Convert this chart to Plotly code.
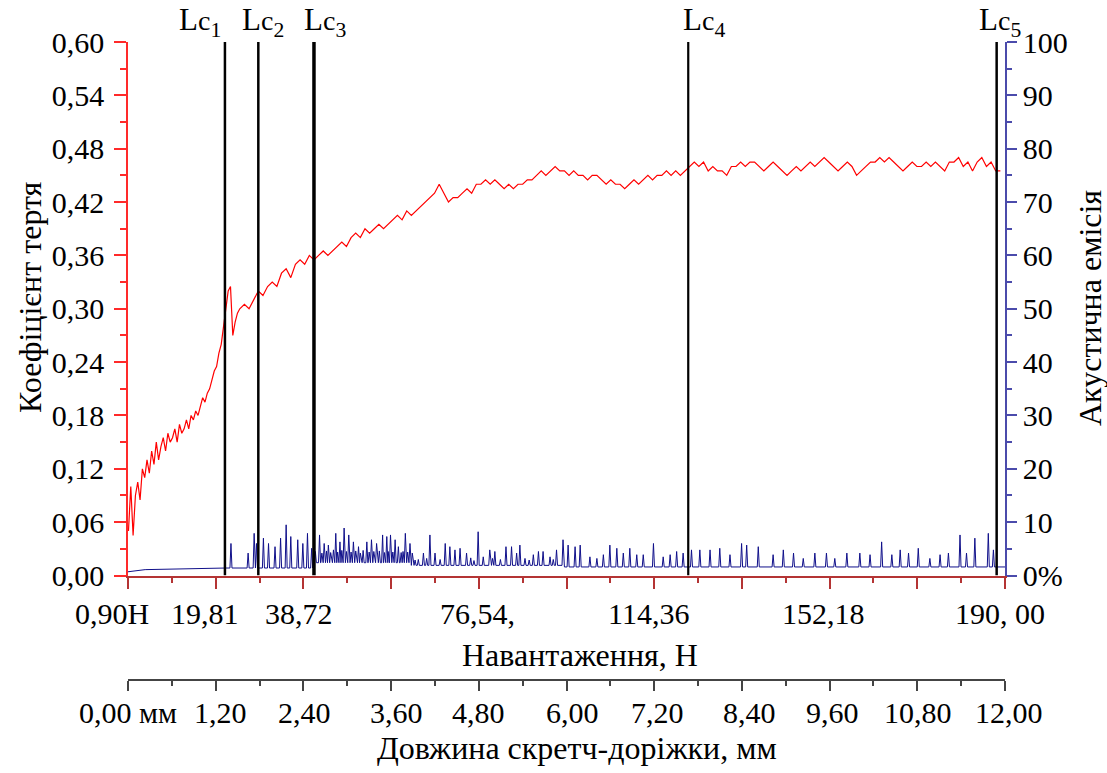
import numpy as np
import plotly.graph_objects as go

# ---------------------------------------------------------------------------
# Scratch test: coefficient of friction and acoustic emission vs normal load
# ---------------------------------------------------------------------------

# Friction coefficient, initial stage (load in N, half-newton steps)
COF_LOAD_EARLY = np.arange(1.0, 25.0, 0.5)
COF_EARLY = [
    0.05, 0.10, 0.045, 0.09, 0.105, 0.085, 0.12, 0.11, 0.13, 0.115,
    0.14, 0.125, 0.15, 0.13, 0.145, 0.155, 0.14, 0.16, 0.15, 0.155,
    0.165, 0.15, 0.17, 0.16, 0.165, 0.175, 0.165, 0.18, 0.175, 0.185,
    0.18, 0.19, 0.20, 0.195, 0.205, 0.21, 0.22, 0.23, 0.235, 0.25,
    0.26, 0.28, 0.295, 0.32, 0.325, 0.27, 0.285, 0.295,
]

# Friction coefficient, main stage (load in N, one-newton steps)
COF_LOAD_MAIN = np.arange(25, 190, 1.0)
COF_MAIN = [
    0.30, 0.305, 0.30, 0.31, 0.32, 0.315, 0.325, 0.33, 0.325, 0.34,
    0.345, 0.335, 0.35, 0.355, 0.35, 0.36, 0.355, 0.36, 0.365, 0.36,
    0.365, 0.37, 0.375, 0.37, 0.38, 0.385, 0.38, 0.39, 0.385, 0.39,
    0.395, 0.39, 0.395, 0.40, 0.405, 0.40, 0.41, 0.405, 0.41, 0.415,
    0.42, 0.425, 0.43, 0.44, 0.43, 0.42, 0.425, 0.425, 0.43, 0.435,
    0.43, 0.44, 0.44, 0.445, 0.44, 0.445, 0.44, 0.435, 0.44, 0.435,
    0.44, 0.44, 0.445, 0.445, 0.45, 0.455, 0.45, 0.455, 0.46, 0.455,
    0.455, 0.45, 0.455, 0.45, 0.45, 0.445, 0.45, 0.45, 0.445, 0.44,
    0.445, 0.44, 0.44, 0.435, 0.44, 0.445, 0.44, 0.445, 0.45, 0.445,
    0.45, 0.45, 0.455, 0.45, 0.455, 0.45, 0.455, 0.46, 0.465, 0.46,
    0.465, 0.455, 0.46, 0.455, 0.455, 0.45, 0.46, 0.46, 0.465, 0.46,
    0.465, 0.465, 0.46, 0.455, 0.46, 0.465, 0.46, 0.455, 0.45, 0.455,
    0.46, 0.455, 0.46, 0.465, 0.46, 0.465, 0.47, 0.465, 0.46, 0.455,
    0.46, 0.465, 0.46, 0.45, 0.455, 0.46, 0.465, 0.465, 0.47, 0.465,
    0.47, 0.465, 0.46, 0.455, 0.46, 0.465, 0.46, 0.46, 0.465, 0.46,
    0.465, 0.46, 0.455, 0.465, 0.465, 0.47, 0.46, 0.465, 0.455, 0.465,
    0.47, 0.46, 0.465, 0.455, 0.455,
]

# Acoustic emission bursts: load (N) and peak amplitude (%)
AE_PEAK_LOAD = [
    23.1, 26.8, 28.1, 28.6, 30.1, 31.2, 32.6, 33.8, 35.0, 36.0,
    37.5, 38.6, 39.6, 40.5, 41.3, 42.2, 42.7, 43.2, 43.7, 44.1,
    44.6, 45.2, 45.7, 46.1, 46.6, 47.0, 47.5, 48.0, 48.5, 49.0,
    49.5, 50.0, 50.6, 51.0, 51.6, 52.4, 52.9, 53.4, 53.9, 54.5,
    55.1, 55.8, 56.2, 56.7, 57.0, 57.5, 58.0, 58.5, 59.2, 59.8,
    60.2, 60.7, 61.2, 61.7, 62.2, 62.8, 63.5, 64.6, 65.3, 66.0,
    67.1, 68.2, 69.3, 70.3, 71.4, 72.5, 73.9, 74.8, 75.5, 76.4,
    77.5, 78.9, 79.5, 80.0, 81.2, 82.4, 83.6, 84.7, 85.4, 86.5,
    87.4, 88.3, 89.4, 90.4, 91.9, 92.6, 93.3, 94.7, 95.8, 97.3,
    98.4, 100.5, 102.0, 103.4, 104.8, 106.3, 107.7, 109.1, 110.6, 112.0,
    114.2, 116.3, 117.8, 119.2, 120.6, 122.4, 124.2, 126.4, 128.5, 130.7,
    133.2, 134.3, 136.8, 140.0, 142.2, 144.4, 146.5, 149.0, 151.5, 153.3,
    155.9, 158.7, 160.9, 163.4, 165.6, 167.4, 169.2, 171.3, 173.8, 176.0,
    177.8, 180.3, 181.7, 183.5, 186.4, 187.5,
]
AE_PEAK = [
    6.0, 4.2, 7.9, 6.0, 7.0, 6.0, 5.4, 7.0, 9.5, 7.3,
    6.7, 6.0, 7.9, 5.1, 4.5, 7.6, 4.2, 6.0, 4.6, 5.7,
    4.3, 4.8, 7.9, 4.4, 6.3, 4.7, 8.9, 4.5, 7.6, 4.4,
    6.3, 4.6, 5.4, 4.2, 4.7, 6.3, 4.4, 6.7, 4.5, 6.0,
    4.6, 7.6, 4.3, 7.3, 4.5, 7.6, 4.4, 6.7, 5.4, 4.3,
    4.5, 7.9, 4.4, 6.0, 4.2, 2.9, 3.0, 4.2, 3.2, 7.6,
    4.2, 3.0, 6.0, 5.4, 4.8, 5.1, 4.2, 3.3, 2.8, 8.2,
    3.5, 4.8, 3.2, 4.5, 3.0, 5.4, 5.4, 4.2, 5.7, 3.2,
    2.9, 3.9, 4.5, 4.5, 3.5, 3.0, 4.8, 6.7, 5.7, 5.4,
    5.7, 3.5, 3.2, 3.9, 5.7, 5.1, 4.2, 5.1, 3.9, 3.9,
    6.0, 3.5, 3.9, 4.5, 4.2, 4.8, 4.8, 4.8, 5.1, 3.9,
    6.0, 5.7, 5.4, 3.9, 4.8, 4.2, 3.2, 4.2, 4.2, 3.2,
    4.2, 4.2, 3.9, 6.3, 3.9, 4.8, 4.2, 5.1, 3.2, 3.9,
    4.2, 7.6, 4.2, 7.0, 7.9, 4.8,
]

# Acoustic emission background level (%) from each listed load onward
AE_FLOOR_LOAD = [0.9, 4.6, 22.0, 41.0, 62.0, 95.0]
AE_FLOOR = [0.7, 1.1, 1.4, 2.4, 1.9, 1.6]

# Critical loads Lc1..Lc5 (N)
LC_LOAD = [21.8, 29.0, 41.0, 121.7, 188.2]
LC_NAME = ["1", "2", "3", "4", "5"]

# Axis ticks
LOAD_TICKS = [0.90, 19.81, 38.72, 57.63, 76.54, 95.45, 114.36, 133.27, 152.18, 171.09, 190.00]
LOAD_TICK_TEXT = ["0,90Н", "19,81", "38,72", "", "76,54,", "", "114,36", "", "152,18", "", "190, 00"]
LEN_TICKS = [0.0, 1.2, 2.4, 3.6, 4.8, 6.0, 7.2, 8.4, 9.6, 10.8, 12.0]
LEN_TICK_TEXT = ["0,00 мм", "1,20", "2,40", "3,60", "4,80", "6,00", "7,20", "8,40", "9,60", "10,80", "12,00"]
COF_TICKS = [0.0, 0.06, 0.12, 0.18, 0.24, 0.30, 0.36, 0.42, 0.48, 0.54, 0.60]
AE_TICKS = [0, 10, 20, 30, 40, 50, 60, 70, 80, 90, 100]

FONT = "Liberation Serif"
RED = "#ff2a2a"
AXIS_RED = "#b43434"
BLUE = "#4b4bab"
GREY = "#444444"

# pixel geometry of the plotting frame
PLOT_W, PLOT_H = 877, 638
BOTTOM_PX = 680


def px_x(px):
    return (px - 128) / PLOT_W


def px_y(py):
    return (BOTTOM_PX - py) / PLOT_H


def floor_at(x):
    idx = np.searchsorted(AE_FLOOR_LOAD, x, side="right") - 1
    return AE_FLOOR[max(idx, 0)]


# Build the burst-shaped AE trace from the peak list
pts = [(xl, fl) for xl, fl in zip(AE_FLOOR_LOAD, AE_FLOOR)]
for xp, hp in zip(AE_PEAK_LOAD, AE_PEAK):
    f = floor_at(xp)
    pts += [(xp - 0.22, f), (xp, hp), (xp + 0.22, f)]
pts.append((190.0, AE_FLOOR[-1]))
pts.sort(key=lambda p: p[0])
ae_x = [p[0] for p in pts]
ae_y = [p[1] for p in pts]

cof_x = list(COF_LOAD_EARLY) + list(COF_LOAD_MAIN)
cof_y = COF_EARLY + COF_MAIN

fig = go.Figure()
fig.add_trace(go.Scatter(x=ae_x, y=ae_y, xaxis="x", yaxis="y2", mode="lines",
                         line=dict(color="#10108a", width=1), hoverinfo="skip"))
fig.add_trace(go.Scatter(x=cof_x, y=cof_y, xaxis="x", yaxis="y", mode="lines",
                         line=dict(color="#ff0000", width=1.2), hoverinfo="skip"))
# carrier for the scratch-length axis
fig.add_trace(go.Scatter(x=[0, 12], y=[0, 0], xaxis="x2", yaxis="y", mode="markers",
                         marker=dict(opacity=0), hoverinfo="skip"))

fig.update_layout(
    width=1107, height=773,
    margin=dict(l=128, r=102, t=42, b=773 - BOTTOM_PX),
    paper_bgcolor="white", plot_bgcolor="white",
    showlegend=False,
    font=dict(family=FONT, size=30, color="black"),
    xaxis=dict(
        domain=[0, 1], anchor="y", range=[0.9, 190],
        showgrid=False, zeroline=False,
        showline=True, linecolor=AXIS_RED, linewidth=1.5,
        ticks="outside", ticklen=12, tickwidth=1.5, tickcolor=AXIS_RED,
        tickmode="array", tickvals=LOAD_TICKS, showticklabels=False,
        minor=dict(tickmode="linear", tick0=0.9, dtick=9.455, ticks="outside",
                   ticklen=6, tickwidth=1.5, tickcolor=AXIS_RED),
    ),
    xaxis2=dict(
        overlaying="x", anchor="free", position=0, side="bottom", range=[0, 12],
        showgrid=False, zeroline=False,
        showline=True, linecolor=GREY, linewidth=1.5,
        ticks="outside", ticklen=10, tickwidth=1.5, tickcolor=GREY,
        tickmode="array", tickvals=LEN_TICKS, showticklabels=False,
        minor=dict(tickmode="linear", tick0=0, dtick=0.6, ticks="outside",
                   ticklen=5, tickwidth=1.5, tickcolor=GREY),
    ),
    yaxis=dict(
        domain=[px_y(575.5), 1], anchor="x", range=[0, 0.6],
        showgrid=False, zeroline=False,
        showline=True, linecolor=RED, linewidth=1.5,
        ticks="outside", ticklen=12, tickwidth=1.5, tickcolor=RED,
        tickmode="array", tickvals=COF_TICKS,
        ticktext=[f"{v:.2f}".replace(".", ",") for v in COF_TICKS],
        minor=dict(tickmode="linear", tick0=0, dtick=0.03, ticks="outside",
                   ticklen=6, tickwidth=1.5, tickcolor=RED),
        ticklabelstandoff=4,
        tickfont=dict(family=FONT, size=30),
    ),
    yaxis2=dict(
        overlaying="y", side="right", anchor="x", range=[0, 100],
        showgrid=False, zeroline=False,
        showline=True, linecolor=BLUE, linewidth=1.5,
        ticks="outside", ticklen=10, tickwidth=1.5, tickcolor=BLUE,
        tickmode="array", tickvals=AE_TICKS,
        ticktext=[("0%" if v == 0 else str(v)) for v in AE_TICKS],
        minor=dict(tickmode="linear", tick0=0, dtick=5, ticks="outside",
                   ticklen=5, tickwidth=1.5, tickcolor=BLUE),
        ticklabelstandoff=0,
        tickfont=dict(family=FONT, size=30),
    ),
)

TICK_FONT = dict(family=FONT, size=30, color="black")

# Load-axis tick labels (set slightly left of their ticks)
LOAD_LABEL_SHIFT = [-16, -11, -4, 0, -1, 0, -6, 0, -6, 0, -5]
for xv, txt, dx in zip(LOAD_TICKS, LOAD_TICK_TEXT, LOAD_LABEL_SHIFT):
    if txt:
        fig.add_annotation(text=txt, xref="x", yref="paper", x=xv, y=px_y(613),
                           xshift=dx, xanchor="center", yanchor="middle",
                           showarrow=False, font=TICK_FONT)

# Scratch-length tick labels
LEN_LABEL_SHIFT = [0, 5, 1, 5, 0, 6, 3, 8, 3, 1, 4]
for xv, txt, dx in zip(LEN_TICKS, LEN_TICK_TEXT, LEN_LABEL_SHIFT):
    fig.add_annotation(text=txt, xref="x2", yref="paper", x=xv, y=px_y(712),
                       xshift=dx, xanchor="center", yanchor="middle",
                       showarrow=False, font=TICK_FONT)

# Critical-load markers
LC_WIDTH = [2.5, 2.5, 3.5, 2.2, 2.5]
for xl, w in zip(LC_LOAD, LC_WIDTH):
    fig.add_shape(type="line", xref="x", yref="y", x0=xl, x1=xl, y0=0, y1=0.6,
                  line=dict(color="black", width=w), layer="above")

LC_LABEL_X = [200, 263, 325, 704, 1000]
for px, name in zip(LC_LABEL_X, LC_NAME):
    fig.add_annotation(text=f"L<span style='font-size:28px'>c</span><sub>{name}</sub>",
                       xref="paper", yref="paper", x=px_x(px), y=px_y(22),
                       xanchor="center", yanchor="middle", showarrow=False,
                       font=dict(family=FONT, size=31))

# Axis titles
TITLE_FONT = dict(family=FONT, size=32, color="black")
fig.add_annotation(text="Навантаження, Н", xref="paper", yref="paper",
                   x=px_x(580), y=px_y(655),
                   xanchor="center", yanchor="middle", showarrow=False, font=TITLE_FONT)
fig.add_annotation(text="Довжина скретч-доріжки, мм", xref="paper", yref="paper",
                   x=px_x(577), y=px_y(748),
                   xanchor="center", yanchor="middle", showarrow=False, font=TITLE_FONT)
fig.add_annotation(text="Коефіцієнт тертя", xref="paper", yref="paper",
                   x=px_x(30), y=px_y(297), textangle=-90,
                   xanchor="center", yanchor="middle", showarrow=False, font=TITLE_FONT)
fig.add_annotation(text="Акустична емісія", xref="paper", yref="paper",
                   x=px_x(1090), y=px_y(308), textangle=-90,
                   xanchor="center", yanchor="middle", showarrow=False, font=TITLE_FONT)

fig.write_html("out.html")
